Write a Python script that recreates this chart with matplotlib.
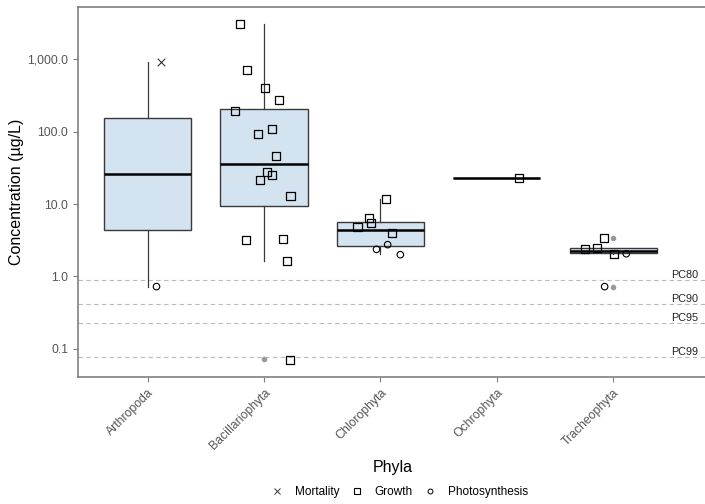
import matplotlib.pyplot as plt
from matplotlib.lines import Line2D
import numpy as np

plt.rcParams['font.family'] = ['Liberation Sans', 'DejaVu Sans']

# ---- data ----
phyla = ['Arthropoda', 'Bacillariophyta', 'Chlorophyta', 'Ochrophyta', 'Tracheophyta']

# box statistics (ug/L): whisker low, Q1, median, Q3, whisker high
whislo = [0.72, 1.63, 2.05, 22.9, 2.01]
q1 = [4.37, 9.3, 2.60, 22.9, 2.08]
med = [26.3, 36.0, 4.41, 22.9, 2.26]
q3 = [153.0, 208.0, 5.58, 22.9, 2.49]
whishi = [912.0, 3120.0, 11.6, 22.9, 2.46]

# outliers drawn by the boxplot (grey dots)
outlier_phylum = [1, 4, 4]
outlier_value = [0.071, 3.38, 0.72]

# jittered observations: phylum index, x jitter, value
mort_phylum = [0]
mort_jitter = [0.11]
mort_value = [912.0]

growth_phylum = [1] * 16 + [2] * 5 + [3] + [4] * 4
growth_jitter = [-0.21, -0.15, 0.01, 0.13, -0.25, 0.064, -0.05, 0.10,
                 0.024, 0.064, -0.033, 0.227, -0.152, 0.164, 0.20, 0.224,
                 0.05, -0.10, -0.083, -0.197, 0.103,
                 0.19,
                 -0.079, -0.244, -0.139, 0.004]
growth_value = [3120, 720, 398, 272, 193, 109, 93, 46.5,
                27.4, 25.0, 21.7, 12.9, 3.18, 3.25, 1.63, 0.0696,
                11.6, 6.4, 5.51, 4.81, 3.97,
                22.9,
                3.36, 2.41, 2.46, 2.01]

photo_phylum = [0, 2, 2, 2, 4, 4]
photo_jitter = [0.075, 0.062, -0.034, 0.171, 0.113, -0.073]
photo_value = [0.72, 2.74, 2.36, 1.99, 2.05, 0.72]

pc_labels = ['PC80', 'PC90', 'PC95', 'PC99']
pc_values = [0.88, 0.41, 0.224, 0.076]

ytick_values = [0.1, 1, 10, 100, 1000]
ytick_labels = ['0.1', '1.0', '10.0', '100.0', '1,000.0']

# ---- plot ----
fig = plt.figure(figsize=(7.05, 5.04), dpi=100)
ax = fig.add_axes([0.1106, 0.2526, 0.8944, 0.7341])

positions = np.arange(1, len(phyla) + 1)
stats = []
for i in range(len(phyla)):
    stats.append(dict(whislo=whislo[i], q1=q1[i], med=med[i], q3=q3[i],
                      whishi=whishi[i], fliers=[]))

ax.bxp(stats, positions=positions, widths=0.75, patch_artist=True,
       showcaps=False, showfliers=False,
       boxprops=dict(facecolor='#D4E3F0', edgecolor='#3a3a3a', linewidth=1.0),
       whiskerprops=dict(color='#3a3a3a', linewidth=0.9),
       medianprops=dict(color='black', linewidth=1.8))

for lab, v in zip(pc_labels, pc_values):
    ax.axhline(v, color='#BBBBBB', linestyle=(0, (4, 3)), linewidth=0.8, zorder=1)
    ax.annotate(lab, xy=(0.99, v), xycoords=('figure fraction', 'data'),
                xytext=(0, 0.5), textcoords='offset points',
                ha='right', va='bottom', fontsize=7.8, color='#222222')

ax.scatter([positions[p] for p in outlier_phylum], outlier_value,
           s=9, color='#999999', zorder=3)
ax.scatter(np.array([positions[p] for p in mort_phylum]) + mort_jitter, mort_value,
           marker='x', s=30, color='#333333', linewidths=0.8, zorder=4)
ax.scatter(np.array([positions[p] for p in growth_phylum]) + growth_jitter, growth_value,
           marker='s', s=34, facecolors='none', edgecolors='black', linewidths=0.9, zorder=4)
ax.scatter(np.array([positions[p] for p in photo_phylum]) + photo_jitter, photo_value,
           marker='o', s=22, facecolors='none', edgecolors='black', linewidths=0.8, zorder=4)

ax.set_yscale('log')
ax.set_ylim(0.04087, 5358)
ax.set_xlim(0.4, 5.82)
ax.set_yticks(ytick_values)
ax.set_yticklabels(ytick_labels)
ax.minorticks_off()
ax.set_xticks(positions)
ax.set_xticklabels(phyla, rotation=45, ha='right', va='top', rotation_mode='anchor')

for side in ['top', 'left', 'bottom']:
    ax.spines[side].set_color('#808080')
    ax.spines[side].set_linewidth(1.2)
ax.spines['right'].set_visible(False)
ax.tick_params(axis='both', colors='#808080', labelcolor='#555555',
               labelsize=8.8, length=3.5, width=0.8)

ax.set_ylabel('Concentration (µg/L)', fontsize=11.5, color='black')
ax.yaxis.set_label_coords(-0.0856, 0.5)
ax.set_xlabel('Phyla', fontsize=11.5, color='black', labelpad=6)

handles = [
    Line2D([], [], marker='x', linestyle='none', color='#333333', markersize=5, markeredgewidth=0.7),
    Line2D([], [], marker='s', linestyle='none', markerfacecolor='none', markeredgecolor='black',
           markersize=4.5, markeredgewidth=0.8),
    Line2D([], [], marker='o', linestyle='none', markerfacecolor='none', markeredgecolor='black',
           markersize=3.5, markeredgewidth=0.7),
]
fig.legend(handles, ['Mortality', 'Growth', 'Photosynthesis'], loc='center',
           bbox_to_anchor=(0.567, 0.023), ncol=3, frameon=False, fontsize=8.5,
           handlelength=1.0, handletextpad=1.0, columnspacing=1.0)

fig.savefig('out.png', dpi=100)
